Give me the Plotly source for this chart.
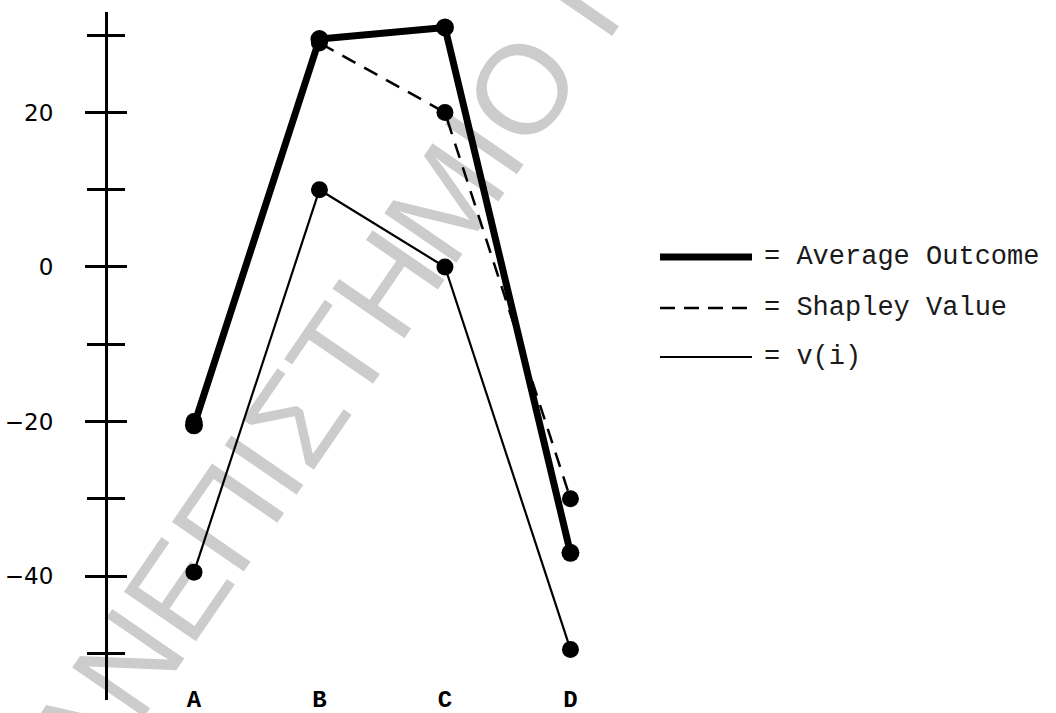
import plotly.graph_objects as go

# ---- data ----
categories = ["A", "B", "C", "D"]
average_outcome = [-20.5, 29.5, 31, -37]
shapley_value = [-20, 29, 20, -30]
v_i = [-39.5, 10, 0, -49.5]

major_tick_vals = [20, 0, -20, -40]
major_tick_text = ["20", "0", "\u221220", "\u221240"]
minor_tick_vals = [30, 10, -10, -30, -50]

legend_labels = ["Average Outcome", "Shapley Value", "v(i)"]
watermark_text = "ΠΑΝΕΠΙΣΤΗΜΙΟ ΠΕΙΡΑΙΩΣ"

# ---- layout geometry (pixels) ----
W, H = 1056, 713
ML, MR, MT, MB = 108, 0, 12, 13
PW, PH = W - ML - MR, H - MT - MB


def px_x(px):
    """screen x (pixels) -> paper x"""
    return (px - ML) / PW


def px_y(py):
    """screen y (pixels) -> paper y"""
    return (H - MB - py) / PH


fig = go.Figure()

fig.add_trace(go.Scatter(
    x=categories, y=shapley_value, mode="lines+markers", name=legend_labels[1],
    line=dict(color="black", width=2.5, dash="15px,10px"),
    marker=dict(color="black", size=17)))
fig.add_trace(go.Scatter(
    x=categories, y=v_i, mode="lines+markers", name=legend_labels[2],
    line=dict(color="black", width=2.2),
    marker=dict(color="black", size=17)))
fig.add_trace(go.Scatter(
    x=categories, y=average_outcome, mode="lines+markers", name=legend_labels[0],
    line=dict(color="black", width=7),
    marker=dict(color="black", size=18)))
# empty trace so the mirrored-tick axis is drawn
fig.add_trace(go.Scatter(x=[], y=[], yaxis="y2", showlegend=False))

yrange = [-56.05, 33.0]

fig.update_layout(
    width=W, height=H,
    margin=dict(l=ML, r=MR, t=MT, b=MB, autoexpand=False),
    paper_bgcolor="white", plot_bgcolor="white",
    showlegend=False,
    xaxis=dict(
        type="category", categoryorder="array", categoryarray=categories,
        range=[-0.685, 6.869], showline=False, showgrid=False, zeroline=False,
        ticks="", anchor="free", position=0.026, automargin=False,
        tickfont=dict(family="Liberation Mono", size=24, color="black", weight="bold"),
    ),
    yaxis=dict(
        range=yrange, showgrid=False, zeroline=False, automargin=False,
        showline=True, linecolor="black", linewidth=3,
        tickmode="array", tickvals=major_tick_vals, ticktext=major_tick_text,
        ticks="outside", ticklen=20, tickwidth=2.5, tickcolor="black",
        ticklabelstandoff=27,
        tickfont=dict(family="DejaVu Sans", size=23, color="black"),
        minor=dict(tickmode="array", tickvals=minor_tick_vals, ticks="outside",
                   ticklen=18, tickwidth=2.5, tickcolor="black", showgrid=False),
    ),
    yaxis2=dict(
        range=yrange, overlaying="y", side="left", anchor="x", automargin=False,
        showgrid=False, zeroline=False, showline=False, showticklabels=False,
        tickmode="array", tickvals=major_tick_vals,
        ticks="inside", ticklen=19, tickwidth=2.5, tickcolor="black",
        minor=dict(tickmode="array", tickvals=minor_tick_vals, ticks="inside",
                   ticklen=17, tickwidth=2.5, tickcolor="black", showgrid=False),
    ),
)

# ---- legend drawn as key lines + text ----
legend_rows = [(257, 7, "solid"), (308, 2.5, "15px,9px"), (357, 2.2, "solid")]
for (py, lw, dash), label in zip(legend_rows, legend_labels):
    fig.add_shape(type="line", xref="paper", yref="paper",
                  x0=px_x(660), x1=px_x(752), y0=px_y(py), y1=px_y(py),
                  line=dict(color="black", width=lw, dash=dash))
    fig.add_annotation(xref="paper", yref="paper", x=px_x(762), y=px_y(py),
                       xanchor="left", yanchor="middle", showarrow=False,
                       text="= " + label,
                       font=dict(family="Liberation Mono", size=27, color="#1a1a1a"))

# ---- watermark ----
fig.add_annotation(xref="paper", yref="paper", x=px_x(450), y=px_y(194),
                   xanchor="center", yanchor="middle", showarrow=False,
                   text=watermark_text, textangle=-55.5,
                   font=dict(family="Liberation Sans", size=127, color="rgba(0,0,0,0.2)"))

# page body has a default 8px margin; remove it so the figure fills the window
fig.write_html("out.html", config={"displayModeBar": False},
               post_script="document.body.style.margin='0';")
